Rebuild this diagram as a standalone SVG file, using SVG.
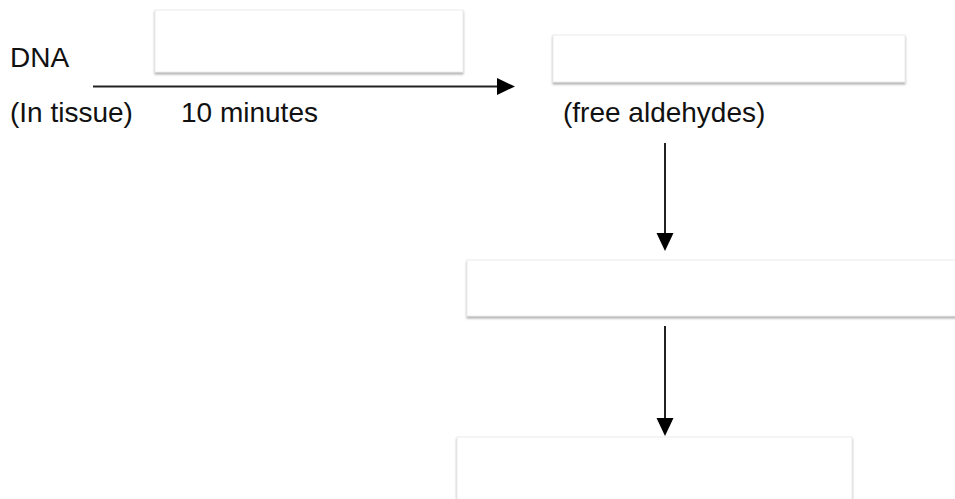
<svg xmlns="http://www.w3.org/2000/svg" width="955" height="499" viewBox="0 0 955 499">
  <style>
    .box { fill: #ffffff; stroke: #ececec; stroke-width: 1; filter: url(#shadow); }
    .lbl { font-family: "Liberation Sans", Arial, sans-serif; font-size: 28px; fill: #111111; }
    .conn { stroke: #222222; stroke-width: 2; fill: none; }
    .head { fill: #000000; }
  </style>
  <defs>
    <filter id="shadow" x="-5%" y="-20%" width="110%" height="150%">
      <feDropShadow dx="0" dy="2" stdDeviation="1.2" flood-color="#9a9a9a" flood-opacity="0.8"/>
    </filter>
  </defs>
  <rect width="955" height="499" fill="#ffffff"/>

  <g id="box1"><rect class="box" x="155" y="10" width="308" height="62"/></g>
  <g id="box2"><rect class="box" x="553" y="35" width="352" height="47"/></g>
  <g id="box3"><rect class="box" x="467" y="260" width="500" height="56"/></g>
  <g id="box4"><rect class="box" x="457" y="437" width="395" height="66"/></g>

  <g id="dna-label">
    <text class="lbl" x="10" y="67">DNA</text>
    <text class="lbl" x="10" y="122">(In tissue)</text>
  </g>
  <g id="time-label"><text class="lbl" x="181" y="122">10 minutes</text></g>
  <g id="aldehyde-label"><text class="lbl" x="563" y="122">(free aldehydes)</text></g>

  <g id="connectors">
    <line class="conn" x1="93" y1="86.5" x2="499" y2="86.5"/>
    <polygon class="head" points="497,78 515,86.5 497,95"/>
    <line class="conn" x1="665" y1="143" x2="665" y2="235"/>
    <polygon class="head" points="656.5,233 673.5,233 665,251"/>
    <line class="conn" x1="665" y1="326" x2="665" y2="420"/>
    <polygon class="head" points="656.5,418 673.5,418 665,436"/>
  </g>
</svg>
